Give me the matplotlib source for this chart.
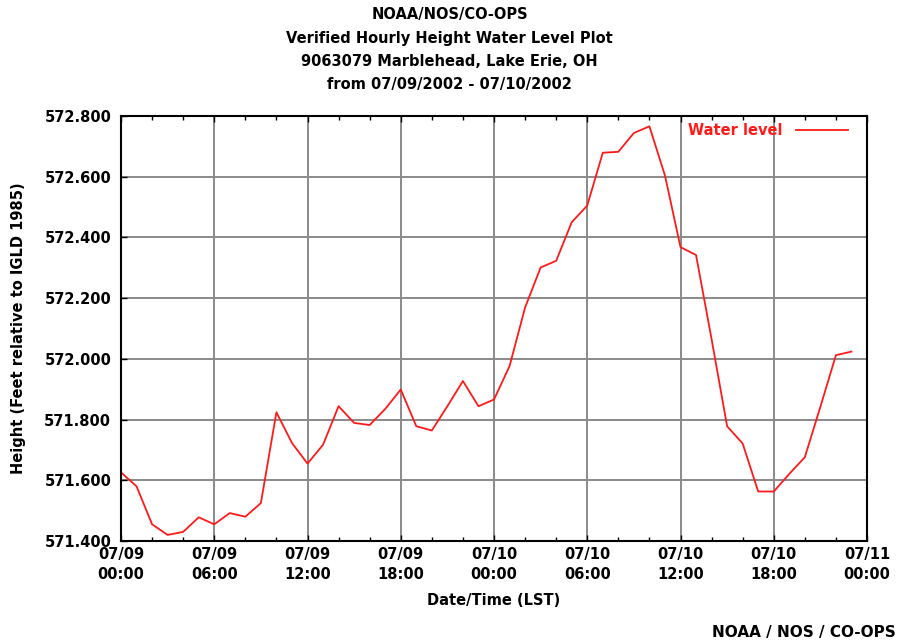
import numpy as np
import matplotlib.pyplot as plt
from matplotlib.ticker import MultipleLocator, FixedLocator

plt.rcParams['font.family'] = ['DejaVu Sans']
plt.rcParams['font.weight'] = 'bold'

# hourly verified water level, 07/09/2002 00:00 .. 07/10/2002 23:00 (feet, IGLD 1985)
hours = np.arange(48)
water_level = [
    571.626, 571.580, 571.455, 571.420, 571.430, 571.478, 571.455, 571.492,
    571.480, 571.525, 571.824, 571.723, 571.655, 571.717, 571.844, 571.789,
    571.782, 571.835, 571.899, 571.778, 571.764, 571.844, 571.927, 571.844,
    571.866, 571.976, 572.169, 572.301, 572.323, 572.450, 572.505, 572.679,
    572.682, 572.744, 572.766, 572.604, 572.368, 572.342, 572.065, 571.778,
    571.721, 571.563, 571.563, 571.621, 571.676, 571.842, 572.012, 572.024,
]

xtick_hours = [0, 6, 12, 18, 24, 30, 36, 42, 48]
xtick_labels = ["07/09\n00:00", "07/09\n06:00", "07/09\n12:00", "07/09\n18:00",
                "07/10\n00:00", "07/10\n06:00", "07/10\n12:00", "07/10\n18:00",
                "07/11\n00:00"]
ytick_values = [571.4, 571.6, 571.8, 572.0, 572.2, 572.4, 572.6, 572.8]

title_lines = ["NOAA/NOS/CO-OPS",
               "Verified Hourly Height Water Level Plot",
               "9063079 Marblehead, Lake Erie, OH",
               "from 07/09/2002 - 07/10/2002"]

fs = 10.5
red = "#ff1a1a"

fig = plt.figure(figsize=(8.99, 6.43), dpi=100)
ax = fig.add_axes([121 / 899, 1 - 541 / 643, (867 - 121) / 899, (541 - 116) / 643])

ax.plot(hours, water_level, color=red, linewidth=1.3, label="Water level")

ax.set_xlim(0, 48)
ax.set_ylim(571.4, 572.8)
ax.xaxis.set_major_locator(FixedLocator(xtick_hours))
ax.set_xticklabels(xtick_labels, linespacing=1.45)
ax.xaxis.set_minor_locator(MultipleLocator(2))
ax.set_yticks(ytick_values)
ax.set_yticklabels([f"{v:.3f}" for v in ytick_values])

ax.grid(True, which="major", color="#8a8a8a", linewidth=1.4)
ax.set_axisbelow(True)
ax.tick_params(axis="both", which="major", direction="in", length=4, width=1,
               labelsize=fs, top=True, right=False)
ax.tick_params(axis="x", which="major", pad=4)
ax.tick_params(axis="y", which="major", pad=7)
ax.tick_params(axis="x", which="minor", direction="in", length=3, width=1, top=True)
for lab in ax.get_xticklabels() + ax.get_yticklabels():
    lab.set_fontweight("bold")
for sp in ax.spines.values():
    sp.set_linewidth(1.5)

ax.set_xlabel("Date/Time (LST)", fontsize=fs, fontweight="bold", labelpad=8)
ax.set_ylabel("Height (Feet relative to IGLD 1985)", fontsize=fs,
              fontweight="bold", labelpad=13)

leg = ax.legend(loc="upper right", frameon=False, markerfirst=False,
                fontsize=fs, handlelength=3.6, borderaxespad=0,
                bbox_to_anchor=(1 - 16 / 746, 1 - 4 / 425),
                handletextpad=0.9, borderpad=0.2)
for t in leg.get_texts():
    t.set_color(red)
    t.set_fontweight("bold")

for i, line in enumerate(title_lines):
    fig.text(0.5, 1 - (15 + 23 * i) / 643, line, ha="center", va="center",
             fontsize=fs, fontweight="bold")

fig.text(1 - 3 / 899, 1 - 632 / 643, "NOAA / NOS / CO-OPS", ha="right",
         va="center", fontsize=11, fontweight="bold")

fig.savefig("out.png", dpi=100)
